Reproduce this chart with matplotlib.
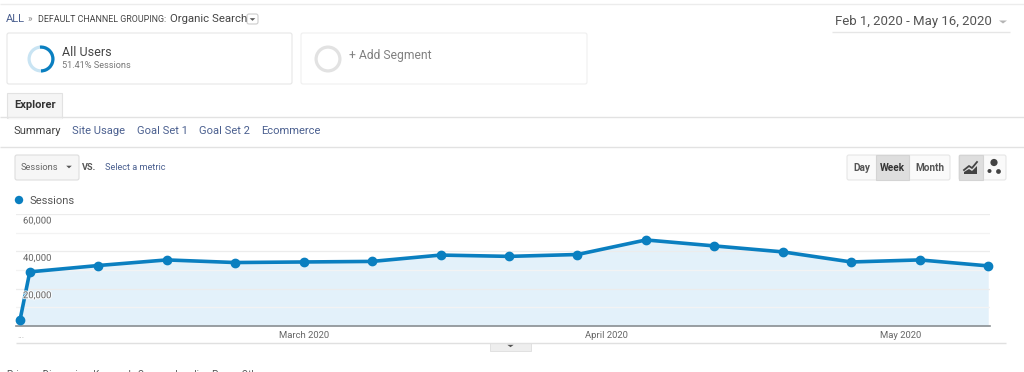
import matplotlib
matplotlib.use("Agg")
import matplotlib.pyplot as plt
import matplotlib.dates as mdates
import matplotlib.patheffects as pe
from matplotlib.patches import FancyBboxPatch, Rectangle, Polygon, Wedge, Circle
import pandas as pd

plt.rcParams['font.family'] = ['Roboto', 'DejaVu Sans']

W, H = 1024, 372

dates = pd.to_datetime(["2020-02-01", "2020-02-02", "2020-02-09", "2020-02-16", "2020-02-23",
                        "2020-03-01", "2020-03-08", "2020-03-15", "2020-03-22", "2020-03-29",
                        "2020-04-05", "2020-04-12", "2020-04-19", "2020-04-26", "2020-05-03",
                        "2020-05-10"])
sessions = [3200, 29000, 32400, 35400, 34000, 34300, 34600, 38000, 37300, 38300,
            46100, 42900, 39700, 34300, 35400, 32200]
y_ticks = [20000, 40000, 60000]
y_minor = [10000, 30000, 50000]
month_dates = pd.to_datetime(["2020-03-01", "2020-04-01", "2020-05-01"])
month_labels = ["March 2020", "April 2020", "May 2020"]

BLUE = "#0a7fc0"
FILL = "#e3f1fa"
GRID = "#ececec"
TXT = "#555555"
LINK = "#4a5f8f"

fig = plt.figure(figsize=(W / 100, H / 100), dpi=100)
fig.patch.set_facecolor("white")

# page furniture, in pixel coordinates
ui = fig.add_axes([0, 0, 1, 1])
ui.set_xlim(0, W)
ui.set_ylim(H, 0)
ui.axis("off")


def label(x, y, s, size=8, color=TXT, **kw):
    kw.setdefault("va", "center")
    ui.text(x, y, s, fontsize=size, color=color, **kw)


def box(x0, y0, x1, y1, edge="#e6e6e6", face="white", lw=0.8):
    ui.add_patch(FancyBboxPatch((x0, y0), x1 - x0, y1 - y0, boxstyle="round,pad=0,rounding_size=2",
                                ec=edge, fc=face, lw=lw))


def hline(y, x0=0, x1=W, color="#e2e2e2", lw=1):
    ui.plot([x0, x1], [y, y], color=color, lw=lw, solid_capstyle="butt")


def arrow(cx, cy, color="#666666", w=3.5, h=3):
    ui.add_patch(Polygon([(cx - w, cy - h / 2), (cx + w, cy - h / 2), (cx, cy + h / 2)], fc=color, ec="none"))


def ring(cx, cy, color, r=13.5, width=3.2, start=0, end=360):
    ui.add_patch(Wedge((cx, cy), r, start, end, width=width, fc=color, ec="none"))


hline(3.5, color="#ececec")

label(6, 19, "ALL", 8, LINK)
label(28, 19, "»", 7, "#888888")
label(38.5, 19.5, "DEFAULT CHANNEL GROUPING:", 6.4, "#444444")
label(170, 18.5, "Organic Search", 8.2, "#444444")
box(247, 14, 258, 24, edge="#cccccc")
arrow(252.5, 19.5, "#555555", 2.8, 2.6)

label(835, 22, "Feb 1, 2020 - May 16, 2020", 9.55, "#555555")
arrow(1003, 22, "#b5b5b5", 4, 3)
hline(32, 832, 1010, "#e6e6e6")

box(7, 33, 292, 84)
ring(41, 59, "#c9e4f3")
ring(41, 59, BLUE, start=-95, end=90)
label(62, 52, "All Users", 9, "#444444")
label(62, 65, "51.41% Sessions", 6.6, "#777777")

box(301, 33, 587, 84, edge="#efefef")
ring(328, 59, "#e2e2e2")
label(349, 56, "+ Add Segment", 8.7, "#808080")

hline(117)
ui.add_patch(Rectangle((7, 93), 55, 24.5, fc="#f5f5f5", ec="#e2e2e2", lw=0.8))
hline(117.5, 7.5, 61.5, "#f5f5f5")
label(14, 105, "Explorer", 8, "#333333", fontweight="bold")

label(13, 131, "Summary", 8, "#444444")
label(72, 131, "Site Usage", 8, LINK)
label(137, 131, "Goal Set 1", 8, LINK)
label(199, 131, "Goal Set 2", 8, LINK)
label(261, 131, "Ecommerce", 8, LINK)
hline(146.5)

box(15, 155, 79, 180, edge="#dddddd", face="#f6f6f6")
label(21, 168, "Sessions", 6.7, "#666666")
arrow(69, 167, "#555555", 2.8, 2.6)
label(82, 167, "VS.", 6.6, "#555555", fontweight="bold")
label(105, 168, "Select a metric", 6.6, LINK)

ui.add_patch(Circle((19, 200), 4.2, fc=BLUE, ec="none"))
label(30, 200.5, "Sessions", 8, "#555555")

# period buttons
box(847, 155, 950, 180, edge="#e6e6e6", face="#fafafa")
ui.add_patch(Rectangle((876, 155), 33, 25, fc="#dedede", ec="#d4d4d4", lw=0.8))
label(861.5, 168, "Day", 7.2, "#555555", ha="center", fontweight="bold")
label(892.5, 168, "Week", 7.2, "#333333", ha="center", fontweight="bold")
label(930, 168, "Month", 7.2, "#555555", ha="center", fontweight="bold")

box(959, 155, 1006, 180, edge="#e6e6e6", face="#fafafa")
ui.add_patch(Rectangle((959, 155), 24, 25, fc="#dedede", ec="#d4d4d4", lw=0.8))
ui.plot([964, 969, 972, 977], [170, 166, 168, 162], color="#444444", lw=1.3)
ui.add_patch(Polygon([(964, 174), (964, 172), (969, 169), (972, 171), (977, 166), (977, 174)],
                     fc="#444444", ec="none"))
ui.add_patch(Circle((994, 162.5), 3.6, fc="#444444", ec="none"))
ui.add_patch(Circle((989.5, 171), 2, fc="#444444", ec="none"))
ui.add_patch(Circle((998.5, 171.5), 2.4, fc="#444444", ec="none"))

hline(343, 16, 1006, "#e0e0e0")
ui.add_patch(Rectangle((490, 343), 41, 7.5, fc="#eeeeee", ec="#dddddd", lw=0.6))
arrow(510.5, 346, "#555555", 3.2, 2.4)

# this row is cut by the bottom edge in the reference too
label(7, 369.5, "Primary Dimension: Keyword   Source   Landing Page   Other", 7, "#555555", va="top")

# chart
LEFT, RIGHT, BASE, TOP = 16, 990, 326, 214
PX_DAY = 9.78
ax = fig.add_axes([LEFT / W, 1 - BASE / H, (RIGHT - LEFT) / W, (BASE - TOP) / H])
ax.patch.set_alpha(0)
x0 = mdates.date2num(dates[0]) - (20 - LEFT) / PX_DAY
ax.set_xlim(x0, x0 + (RIGHT - LEFT) / PX_DAY)
ax.set_ylim(0, 60000)

ax.fill_between(dates, sessions, 0, color=FILL, lw=0, zorder=1)
for v in y_ticks:
    ax.axhline(v, color=GRID, lw=0.9, zorder=2)
for v in y_minor:
    ax.axhline(v, color="#f3f3f3", lw=0.9, zorder=2)
ax.plot(dates, sessions, color=BLUE, lw=2.6, marker="o", ms=6, clip_on=False, zorder=4)

for s in ["top", "right", "left"]:
    ax.spines[s].set_visible(False)
ax.spines["bottom"].set_color("#8a8f92")
ax.spines["bottom"].set_linewidth(1.2)
ax.spines["bottom"].set_zorder(3)

ax.set_yticks([])
for v in y_ticks:
    ax.annotate(f"{v:,}", (0, v), xycoords=("axes fraction", "data"), xytext=(7, -7),
                textcoords="offset pixels", fontsize=6.8, color="#6a6a6a", va="center", ha="left", zorder=5,
                path_effects=[pe.withStroke(linewidth=1.5, foreground="white", alpha=0.8)])

ax.set_xticks(month_dates)
ax.set_xticklabels(month_labels, fontsize=6.8, color="#666666")
ax.tick_params(axis="x", length=0, pad=3.5)
label(17, 336, "...", 6.6, "#aaaaaa")

fig.savefig("out.png", dpi=100)
